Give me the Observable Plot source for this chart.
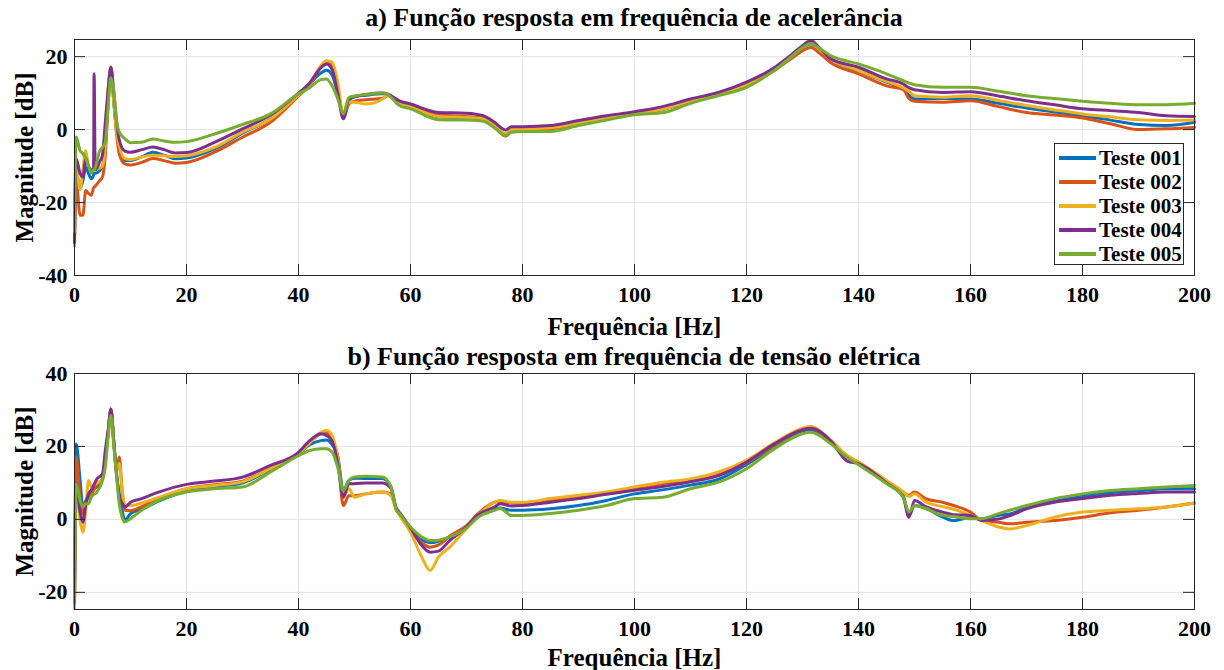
<!DOCTYPE html>
<html><head><meta charset="utf-8">
<script src="https://cdn.jsdelivr.net/npm/d3@7"></script>
<script src="https://cdn.jsdelivr.net/npm/@observablehq/plot@0.6"></script>
<style>
body{margin:0;background:#fff;}
#wrap{position:relative;width:1224px;height:670px;overflow:hidden;font-family:"Liberation Serif","Times New Roman",Times,"DejaVu Serif",serif;font-weight:bold;color:#000;}
.title{position:absolute;left:74px;width:1120px;text-align:center;font-size:26px;line-height:28px;white-space:nowrap;}
.panel{position:absolute;left:0;}
.panel svg{overflow:visible;}
.panel svg text{font-family:"Liberation Serif","Times New Roman",Times,"DejaVu Serif",serif;}
g[aria-label="x-axis label"] text, g[aria-label="y-axis label"] text{font-size:25px;}
#legend{position:absolute;left:1054px;top:143px;width:130px;height:122px;border:1px solid #262626;background:#fff;box-sizing:border-box;}
.lg-row{position:absolute;left:0;height:24px;width:128px;}
.lg-line{position:absolute;left:4px;top:10px;width:37px;height:4px;}
.lg-text{position:absolute;left:44px;top:0;font-size:21px;line-height:24px;white-space:nowrap;}
</style>
</head><body>
<div id="wrap">
  <div class="title" style="top:4px">a) Função resposta em frequência de acelerância</div>
  <div class="title" style="top:343px">b) Função resposta em frequência de tensão elétrica</div>
  <div class="panel" id="pA" style="top:0"></div>
  <div class="panel" id="pB" style="top:340px"></div>
  <div id="legend"></div>
</div>
<script>
const names = ["Teste 001","Teste 002","Teste 003","Teste 004","Teste 005"];
const colors = ["#0072BD","#D95319","#EDB120","#7E2F8E","#77AC30"];
const xTicks = [0,20,40,60,80,100,120,140,160,180,200];
const yTicksA = [-40,-20,0,20];
const yTicksB = [-20,0,20,40];
const yDomainA = [-40,24.7];
const yDomainB = [-24.7,40];

// a) acelerância
const freqA = [0,0.3,1,1.5,2,2.5,3,3.4,3.5,3.7,4.5,5,5.5,6,6.5,7,7.5,8,9,10,12,14,16,18,20,25,30,35,40,42,44,45,46,47,48,49,50,52,55,56,58,60,65,70,73,75,77,78,80,85,90,95,100,105,110,115,120,125,128,130,131.5,133,135,140,145,148,149,150,155,160,165,170,175,180,185,190,195,200];
const teste001A = [-29,-12,-16,-14,-10.3,-12,-13.5,-12.5,-12,-12,
-11.2,-10,-5,10,16.6,8,0,-5,-8.5,-8.5,
-7.5,-6.2,-7,-8,-7.8,-5.3,-1,3,9.6,12.5,
15.5,16.3,15,10,4.3,8,9,9.4,9.8,9.5,
7.5,6.5,3.5,3.2,2.8,1.0,-1.3,-0.3,0,0.3,
1.7,3,4.4,5.5,7.8,9.7,12.3,16.5,20,22.5,
23.5,22,19.5,16,13,11,9.5,8.4,8.5,8.4,
7.2,5.9,4.8,3.8,2.6,1.4,1.1,2.0];
const teste002A = [-30,-14,-23.5,-23.5,-16.7,-17.5,-18,-16,-15.8,-15.5,
-14,-13,-7,7,17,8,-1,-6.7,-9.4,-9.7,
-9,-7.9,-8.5,-9.2,-9,-6.2,-2.1,2,9.2,12.3,
17,18.4,17.5,12,3,7,7.8,8.2,8.6,9.3,
7.6,6.5,4.0,3.6,3.0,0.8,-1.8,-0.5,-0.2,0.2,
1.6,3,4.3,5.6,7.9,9.8,12.2,16.2,19.5,21.6,
22.5,21,18.4,15.3,12,11,8.5,7.8,7.5,7.9,
6.3,4.7,4,3.2,1.6,0,0.2,0.6];
const teste003A = [-32,-10,-16.5,-11,-5.8,-10,-11,-11,-11,-11,
-10.5,-10,-4.5,11,17.2,8,-0.5,-4.5,-8,-8.2,
-7.5,-7,-7.2,-7.4,-7.2,-4.9,-0.7,2.9,9.5,12.5,
17.5,18.9,18.5,13,4,7.5,7.5,7.0,8.4,9.5,
7.5,6.3,3.6,3.3,2.9,1.2,-1.2,0,0.2,0.5,
1.8,3.1,4.4,5.6,7.8,9.7,12.3,16.5,20,22.5,
23.7,22,19.5,16.2,13.2,11.5,10.5,9.3,8.9,9.3,
8,6.6,5.4,4.3,3.5,2.7,2.5,2.6];
const teste004A = [-31,-8,-12,-13,-8,-10,-11,-11,15.3,-11,
-8.8,-7,2,10.7,17.1,10.7,2.5,-2.9,-5.9,-6.2,
-5.5,-4.8,-5.5,-6.4,-6.3,-3.5,0.2,4,10,12.8,
17,18,16.5,10,3,8.5,9,9.6,10,9.7,
7.9,7.0,4.7,4.5,3.8,2,-0.1,0.8,0.8,1.1,
2.5,3.8,4.9,6.3,8.4,10.2,13,17,20.5,23,
24.4,22.5,19.4,17.1,13.9,12.5,11.5,10.9,10.2,10.4,
9.2,7.9,6.8,5.7,5.2,4.7,3.8,3.6];
const teste005A = [-28,-2,-5.8,-6.6,-8,-10,-12,-11,-11,-10.5,
-5.8,-4.9,-3.4,6.1,14.3,10.7,2.5,-0.7,-2.5,-3.6,
-3.5,-2.6,-3.1,-3.5,-3.3,-1.2,1.4,4.3,9.8,11.5,
13.7,13.9,12,8.5,4.3,8.8,9.2,9.6,10,9.5,
6.6,5.7,2.7,2.6,2.3,0.5,-1.6,-0.7,-0.5,-0.5,
1.1,2.6,4.1,4.6,7.2,9.3,11.6,16.3,20,22.5,
23.6,22.3,20.3,18,15.3,13.4,12.8,12.3,11.6,11.6,
10.5,9.3,8.5,7.8,7.2,6.8,6.8,7.2];

// b) tensão elétrica
const freqB = [0,0.3,1,1.5,2,2.5,3,4,5,5.5,6,6.5,7,7.5,8,8.5,9,10,12,15,20,25,30,35,40,42,44,45,46,47,48,49,50,52,55,56.5,57.5,58,60,62,63.5,65,67,70,72,75,76,78,80,85,90,95,100,105,110,115,120,125,130,131.5,135,138,140,145,148,149,150,152,155,157,160,162,165,167,170,175,180,185,190,195,200];
const teste001B = [-24,20.7,10.7,3.4,5,6,8,9,11,16.5,
23.5,30,21.6,12.5,7,2.5,-0.3,1.6,2.8,5,
7.8,9,10,13.8,18,20.5,21.6,21.8,20.5,17.5,
8,10.7,11.3,11.2,11.2,9,2.5,1.6,-2.5,-5.6,
-6.4,-6,-4.8,-2.1,1.1,2.9,3.1,2.5,2.5,2.9,
3.8,5.2,7,8.1,9.4,11,15,20,24.3,24.6,
21,17.1,15.3,10,6.5,1,3.8,3,0.7,-0.3,
0.5,0.2,1.1,1.5,3.2,5,6.3,7.3,7.9,8.4,
8.4];
const teste002B = [-24,17.1,6,1.5,5,6.5,7,9.5,11,16.5,
23.5,30.3,21.6,14,17.1,8,2.5,2.4,3.5,5.7,
8.4,9.5,10.5,14,18,21,23.5,23.7,22,17,
3.8,6.5,6.5,7.0,7.5,7,2.5,1.6,-2.8,-6.4,
-7.6,-7,-4.6,-1.7,1.5,4.7,5,4.5,4.4,5.2,
6.3,7.2,8.6,9.8,10.8,12.5,15.5,20.5,24.6,25,
21.5,17.3,15.5,10.5,7.5,6.6,7.5,5.7,4.7,3.8,
2,-0.3,-0.8,-1.2,-0.8,-0.3,0.6,1.8,2.5,3.4,
4.5];
const teste003B = [-24.5,8,-0.3,-3.5,2,10.7,9,10,11,16.5,
23.5,30,21.6,13,15.3,8.4,4,3.8,4.5,6,
8.4,9.3,10.3,14,18,21,23.9,24.4,23,17,
6,8.4,6.1,7.0,7.5,6.5,2.5,1.2,-3.5,-10.3,
-14,-10.3,-7.6,-2.5,1,4.7,5.2,4.7,4.7,5.7,
6.6,7.5,8.9,10.2,11.1,13,16.2,21,25,25.5,
21.8,17.5,15.8,10.7,7.5,6.3,7,4.8,3.5,2.8,
1.1,-0.3,-2.1,-2.6,-1.7,0.6,2,2.5,2.9,3.4,
4.5];
const teste004B = [-22,10,2,-0.8,4,7,8,11.1,12.5,18.9,
24.4,30.3,21.6,12.5,6,4.5,3.4,4.7,5.7,7.5,
9.6,10.5,11.6,14.8,18.4,21.6,23.5,23,21.5,15.5,
6.1,9.8,9.8,10,10,8.5,3,2,-2.3,-7.1,
-9,-8.7,-5.8,-2.1,1.2,3.4,4.3,3.7,3.8,4.7,
5.7,6.9,8.0,9,10.3,12,15.7,20.7,24.6,25,
21.6,16,15.3,10,6,0.6,5.2,3.5,2,1.3,
1.1,-0.3,0.1,1,2.9,4.7,5.7,6.6,7.1,7.5,
7.5];
const teste005B = [-23,9.8,5.2,3.4,4.3,4.3,6.1,7.5,10.7,14.3,
22.5,28.5,20.5,12,4.3,0.6,-0.7,0.2,2.5,5.2,
7.5,8.4,8.9,13,17.5,18.9,19.4,19.4,18.5,14.3,
7.9,10.7,11.6,11.8,11.6,9,2.5,1.6,-2.1,-4.8,
-5.8,-5.7,-4.8,-2.4,0.5,2.5,3.0,1.1,1.1,1.6,
2.5,3.8,5.7,6.1,8.4,10.2,13.9,19.4,23.5,23.9,
20.8,17,15,9.8,6.1,2.0,3.8,3,1.1,0.8,
0.2,0.2,1.6,2.5,3.8,5.7,7.0,7.9,8.4,8.9,
9.3];

function toRows(freq, series) {
  const rows = [];
  series.forEach((vals, i) => vals.forEach((v, j) => rows.push({f: freq[j], db: v, teste: names[i]})));
  return rows;
}

const serif = '"Liberation Serif","Times New Roman",Times,"DejaVu Serif",serif';

function panel(freq, series, yDomain, yTicks, height, marginTop, marginBottom, xLabelOffset) {
  const mL = 74, mR = 30, W = 1224;
  const frameW = W - mL - mR, frameH = height - marginTop - marginBottom, tk = 11;
  const ax = "#262626", grid = "#e3e3e3";
  return Plot.plot({
    width: W, height, marginTop, marginBottom, marginLeft: mL, marginRight: mR,
    style: {fontFamily: serif, fontWeight: "bold", fontSize: "22px", color: "#000", background: "transparent"},
    x: {domain: [0, 200], ticks: xTicks, tickFormat: d => String(d), label: "Frequência [Hz]", labelAnchor: "center", labelOffset: xLabelOffset, labelArrow: "none", tickSize: 0, tickPadding: 11},
    y: {domain: yDomain, ticks: yTicks, tickFormat: d => String(d), label: "Magnitude [dB]", labelAnchor: "center", labelOffset: 59, labelArrow: "none", tickSize: 0, tickPadding: 7},
    color: {domain: names, range: colors},
    marks: [
      Plot.gridX(xTicks, {x: d => d, stroke: grid, strokeOpacity: 1}),
      Plot.gridY(yTicks, {y: d => d, stroke: grid, strokeOpacity: 1}),
      Plot.line(toRows(freq, series), {x: "f", y: "db", z: "teste", stroke: "teste", strokeWidth: 3, curve: "monotone-x"}),
      Plot.ruleX(xTicks, {x: d => d, insetTop: frameH - tk, stroke: ax}),
      Plot.ruleX(xTicks, {x: d => d, insetBottom: frameH - tk, stroke: ax}),
      Plot.ruleY(yTicks, {y: d => d, insetRight: frameW - tk, stroke: ax}),
      Plot.ruleY(yTicks, {y: d => d, insetLeft: frameW - tk, stroke: ax}),
      Plot.frame({stroke: ax, strokeWidth: 1})
    ]
  });
}

document.getElementById("pA").append(panel(freqA, [teste001A, teste002A, teste003A, teste004A, teste005A], yDomainA, yTicksA, 340, 39, 65, 59));
document.getElementById("pB").append(panel(freqB, [teste001B, teste002B, teste003B, teste004B, teste005B], yDomainB, yTicksB, 330, 33, 61, 56));

const lg = document.getElementById("legend");
names.forEach((n, i) => {
  const row = document.createElement("div");
  row.className = "lg-row";
  row.style.top = (2 + 24 * i) + "px";
  const ln = document.createElement("div");
  ln.className = "lg-line";
  ln.style.background = colors[i];
  const tx = document.createElement("div");
  tx.className = "lg-text";
  tx.textContent = n;
  row.append(ln, tx);
  lg.append(row);
});
</script>
</body></html>
